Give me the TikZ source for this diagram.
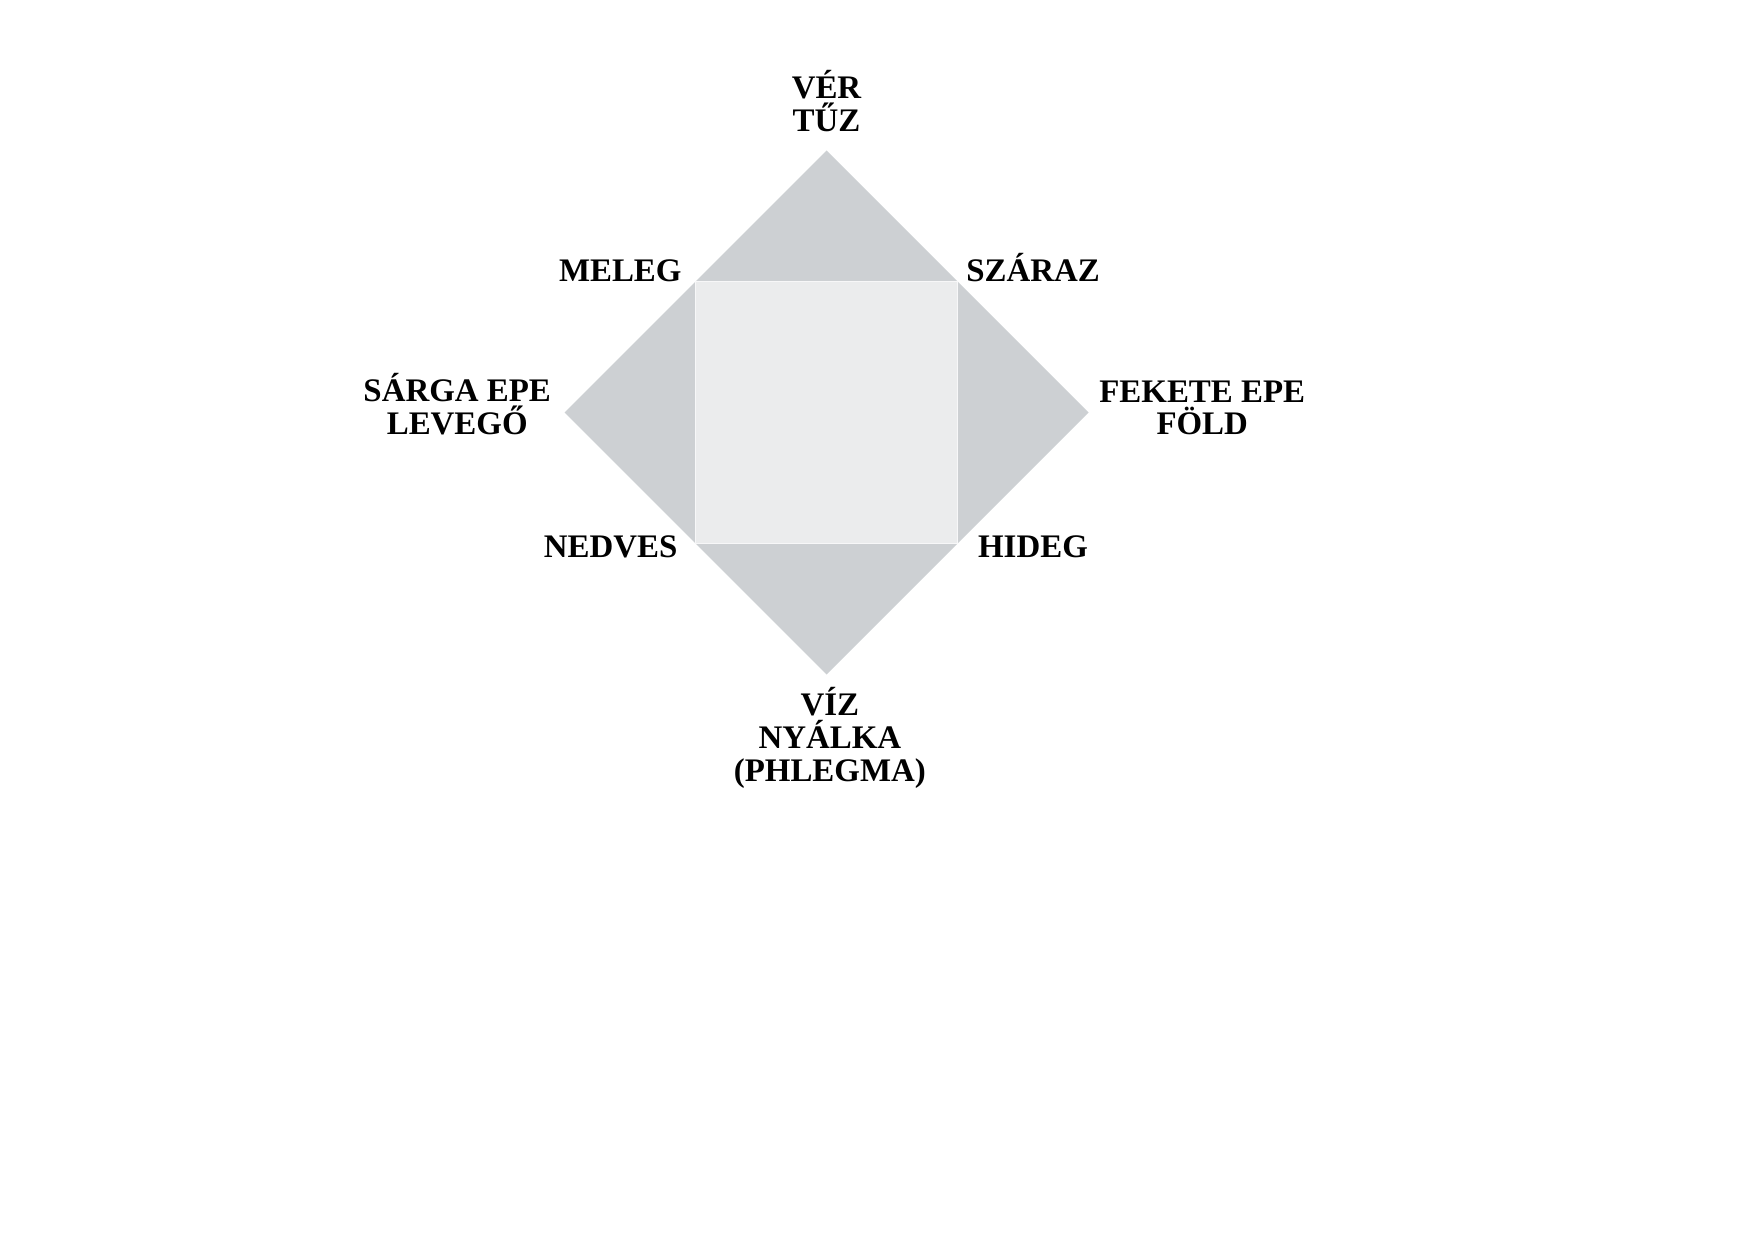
\documentclass[tikz,border=0pt]{standalone}
\usepackage{fontspec}
\setmainfont{Liberation Serif}
\usetikzlibrary{positioning,calc}

\definecolor{outergray}{RGB}{205,208,211}
\definecolor{innergray}{RGB}{235,236,237}

\tikzstyle{lbl}=[inner sep=0pt, align=center, font=\fontsize{15.8}{15.8}\selectfont\bfseries]
\tikzstyle{dia}=[fill=outergray]
\tikzstyle{sq}=[fill=innergray, draw=innergray!40!white, line width=0.5pt]

\begin{document}
\begin{tikzpicture}[x=0.48pt, y=-0.48pt]
    \useasboundingbox (0,0) rectangle (1754,1240);
    % diamond corners
    \coordinate (vtop) at (826.5,150.5);
    \coordinate (vleft) at (564.5,412.5);
    \coordinate (vright) at (1088.5,412.5);
    \coordinate (vbot) at (826.5,674.5);
    % inner square sits on the edge midpoints
    \coordinate (nw) at ($(vtop)!0.5!(vleft)$);
    \coordinate (ne) at ($(vtop)!0.5!(vright)$);
    \coordinate (se) at ($(vbot)!0.5!(vright)$);
    \coordinate (sw) at ($(vbot)!0.5!(vleft)$);
    \fill[dia] (vtop) -- (vright) -- (vbot) -- (vleft) -- cycle;
    \filldraw[sq] (nw) -- (ne) -- (se) -- (sw) -- cycle;
    % humours and elements
    \node [lbl, above=9pt of vtop] (fire) {VÉR\\TŰZ};
    \node [lbl, left=6.3pt of vleft, yshift=3.8pt] (air) {SÁRGA EPE\\LEVEGŐ};
    \node [lbl, right=5pt of vright, yshift=2.2pt] (earth) {FEKETE EPE\\FÖLD};
    \node [lbl, below=5.8pt of vbot, xshift=1.6pt] (water) {VÍZ\\NYÁLKA\\(PHLEGMA)};
    % qualities
    \node [lbl, left=6.5pt of nw, anchor=base east] (warm) {MELEG};
    \node [lbl, right=4pt of ne, anchor=base west] (dry) {SZÁRAZ};
    \node [lbl, below left=6.7pt and 8.5pt of sw, anchor=base east] (wet) {NEDVES};
    \node [lbl, below right=6.7pt and 9.7pt of se, anchor=base west] (cold) {HIDEG};
\end{tikzpicture}
\end{document}
